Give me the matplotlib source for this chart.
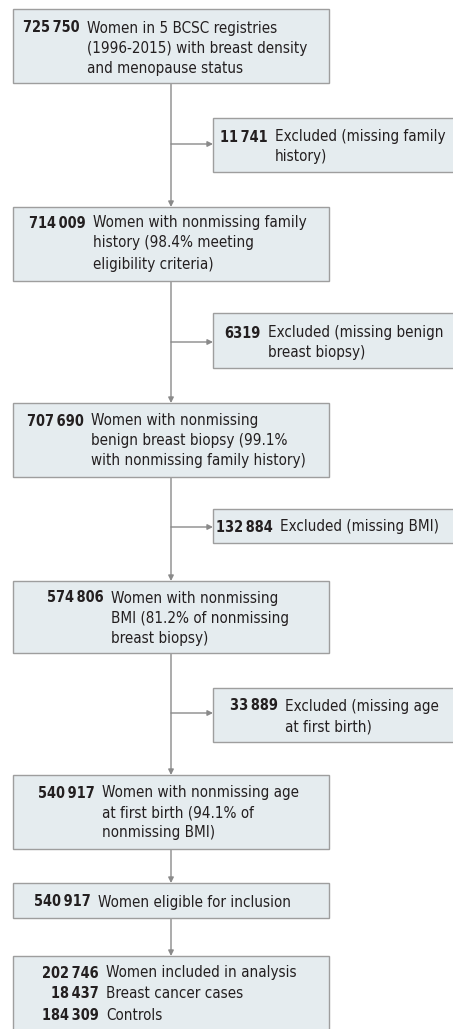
import matplotlib
matplotlib.use("Agg")
import matplotlib.pyplot as plt
from matplotlib import font_manager
from matplotlib.patches import Rectangle

# ---------------- data ----------------
main_counts = ["725\u2009750", "714\u2009009", "707\u2009690", "574\u2009806", "540\u2009917", "540\u2009917"]
main_labels = [
    ["Women in 5 BCSC registries", "(1996-2015) with breast density", "and menopause status"],
    ["Women with nonmissing family", "history (98.4% meeting", "eligibility criteria)"],
    ["Women with nonmissing", "benign breast biopsy (99.1%", "with nonmissing family history)"],
    ["Women with nonmissing", "BMI (81.2% of nonmissing", "breast biopsy)"],
    ["Women with nonmissing age", "at first birth (94.1% of", "nonmissing BMI)"],
    ["Women eligible for inclusion"],
]
excl_counts = ["11\u2009741", "6319", "132\u2009884", "33\u2009889"]
excl_labels = [
    ["Excluded (missing family", "history)"],
    ["Excluded (missing benign", "breast biopsy)"],
    ["Excluded (missing BMI)"],
    ["Excluded (missing age", "at first birth)"],
]
final_counts = ["202\u2009746", "18\u2009437", "184\u2009309"]
final_labels = ["Women included in analysis", "Breast cancer cases", "Controls"]

# ---------------- layout (pixels) ----------------
W, H = 453, 1029
names = {f.name for f in font_manager.fontManager.ttflist}
if "Liberation Sans Narrow" in names:
    fam = ["Liberation Sans Narrow", "DejaVu Sans"]
    fs = 12.6
    stretch = "normal"
else:
    fam = ["DejaVu Sans"]
    fs = 10.9
    stretch = "condensed"
fs_num = fs * 0.96
GAP = 7

FILL = "#e5ecef"
EDGE = "#9e9e9e"
LINE = "#8a8a8a"
TXT = "#231f20"

main_box = [(9, 83), (207, 281), (403, 477), (581, 653), (775, 849), (883, 918)]
main_x0, main_x1 = 13, 329
main_desc_x = [87, 93, 91, 111, 102, 98]
main_line_y = [[28, 49, 69], [223, 243, 264], [421, 441, 461], [598, 619, 638], [793, 813, 833], [902]]

excl_box = [(118, 172), (313, 368), (509, 543), (688, 742)]
excl_x0, excl_x1 = 213, 460
excl_desc_x = [275, 268, 280, 285]
excl_line_y = [[137, 156], [333, 353], [527], [706, 727]]
excl_arrow_y = [144, 342, 527, 713]

final_box = (956, 1040)
final_desc_x = 106
final_line_y = [973, 994, 1016]

line_x = 171

fig = plt.figure(figsize=(W / 100, H / 100), dpi=100)
ax = fig.add_axes([0, 0, 1, 1])
ax.set_xlim(0, W)
ax.set_ylim(H, 0)
ax.axis("off")


def box(x0, y0, x1, y1):
    ax.add_patch(Rectangle((x0, y0), x1 - x0, y1 - y0, facecolor=FILL,
                           edgecolor=EDGE, lw=1.0, zorder=2))


def num(x, y, s):
    ax.text(x - GAP, y, s, ha="right", va="center", fontsize=fs_num,
            fontweight="bold", family=fam, fontstretch=stretch, color=TXT, zorder=3)


def desc(x, y, s):
    ax.text(x, y, s, ha="left", va="center", fontsize=fs,
            family=fam, fontstretch=stretch, color=TXT, zorder=3)


def entry(count, lines, desc_x, ys):
    num(desc_x, ys[0], count)
    for ln, y in zip(lines, ys):
        desc(desc_x, y, ln)


def arrow(x0, y0, x1, y1):
    ax.annotate("", xy=(x1, y1), xytext=(x0, y0),
                arrowprops=dict(arrowstyle="-|>", color=LINE, lw=1.0,
                                mutation_scale=8, shrinkA=0, shrinkB=0),
                zorder=1)


for (t, b), c, lab, dx, ys in zip(main_box, main_counts, main_labels, main_desc_x, main_line_y):
    box(main_x0, t, main_x1, b)
    entry(c, lab, dx, ys)

for (t, b), c, lab, dx, ys in zip(excl_box, excl_counts, excl_labels, excl_desc_x, excl_line_y):
    box(excl_x0, t, excl_x1, b)
    entry(c, lab, dx, ys)

box(main_x0, final_box[0], main_x1, final_box[1])
for c, lab, y in zip(final_counts, final_labels, final_line_y):
    num(final_desc_x, y, c)
    desc(final_desc_x, y, lab)

# vertical connectors
tops = [b[0] for b in main_box[1:]] + [final_box[0]]
bottoms = [b[1] for b in main_box]
for b, t in zip(bottoms, tops):
    arrow(line_x, b, line_x, t)

for y in excl_arrow_y:
    arrow(line_x, y, excl_x0, y)

fig.savefig("out.png", dpi=100)
